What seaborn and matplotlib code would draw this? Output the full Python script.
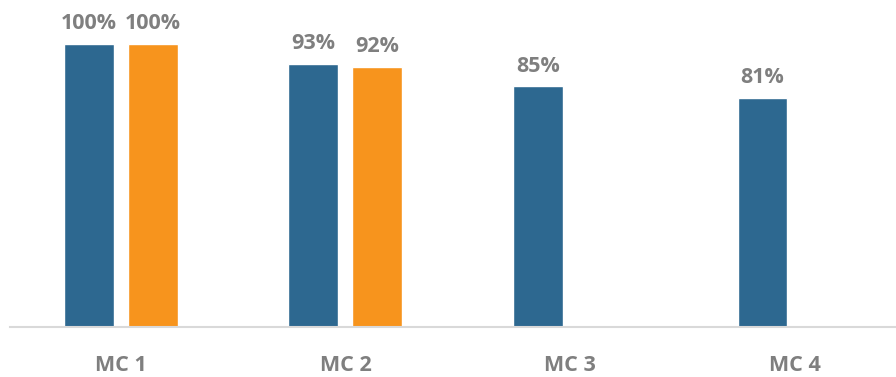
import matplotlib
matplotlib.use("Agg")
import matplotlib.pyplot as plt
import seaborn as sns
import pandas as pd
import numpy as np

categories = ["MC 1", "MC 2", "MC 3", "MC 4"]
series_a = [100, 93, 85, 81]
series_b = [100, 92, np.nan, np.nan]
series_names = ["A", "B"]
colors = ["#2D6890", "#F7941D"]

sns.set_theme(style="white")
plt.rcParams['font.family'] = ['Open Sans', 'DejaVu Sans']

df = pd.DataFrame({
    "cat": categories * 2,
    "val": series_a + series_b,
    "series": [series_names[0]] * 4 + [series_names[1]] * 4,
})

fig = plt.figure(figsize=(8.96, 3.77), dpi=100)
ax = fig.add_axes([10 / 896, 50 / 377, 1 - 10 / 896, 327 / 377])
sns.barplot(data=df, x="cat", y="val", hue="series", palette=colors,
            width=0.57, gap=0.22, ax=ax, legend=False, saturation=1, errorbar=None)

ax.set_xlim(-0.494, 3.452)
ax.set_ylim(0, 115.5)
ax.set_xlabel("")
ax.set_ylabel("")
ax.set_yticks([])
for s in ["top", "right", "left"]:
    ax.spines[s].set_visible(False)
ax.spines["bottom"].set_color("#D9D9D9")
ax.spines["bottom"].set_linewidth(1.5)
ax.tick_params(axis="x", length=0, pad=20, labelsize=15.5, labelcolor="#7F7F7F")
for lbl in ax.get_xticklabels():
    lbl.set_fontweight("bold")

for cont in ax.containers:
    labels = ["" if np.isnan(v) else f"{v:.0f}%" for v in cont.datavalues]
    ax.bar_label(cont, labels=labels, padding=7, fontsize=15.5, fontweight="bold", color="#7F7F7F")

fig.savefig("out.png", dpi=100)
